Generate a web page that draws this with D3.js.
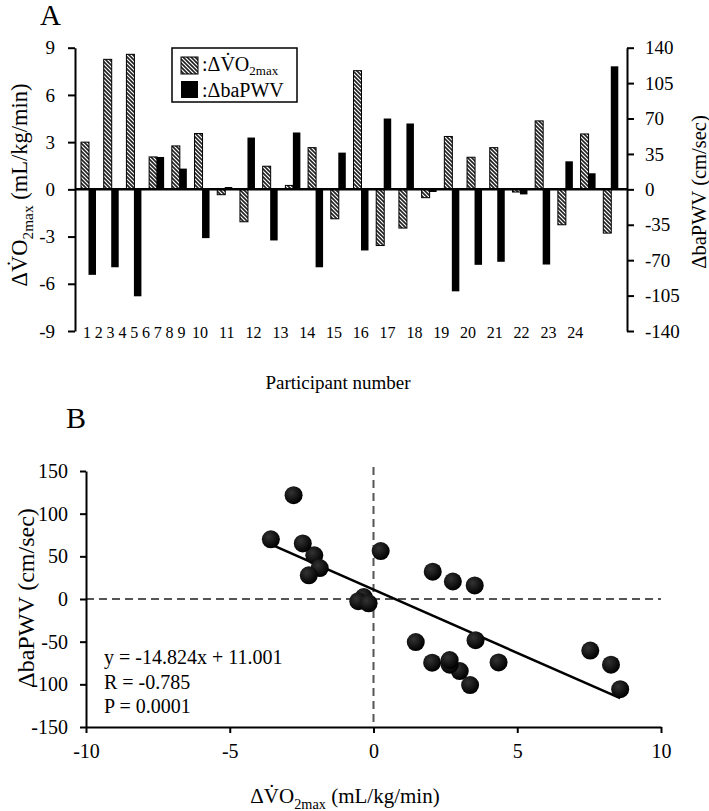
<!DOCTYPE html>
<html><head><meta charset="utf-8">
<script src="https://cdn.jsdelivr.net/npm/d3@7"></script>
<style>
body{margin:0;background:#fff;}
svg, svg text{font-family:"Liberation Serif","Times New Roman","DejaVu Serif",serif;fill:#000;}
</style></head><body>
<svg id="chart" width="709" height="811" font-family="Liberation Serif"></svg>
<script>
// ---- data ----
const participantIds = ["1","2","3","4","5","6","7","8","9","10","11","12","13","14","15","16","17","18","19","20","21","22","23","24"];
const vo2Change = [3.0, 8.26, 8.58, 2.06, 2.76, 3.55, -0.34, -2.06, 1.47, 0.25, 2.65, -1.87, 7.54, -3.57, -2.46, -0.53, 3.36, 2.04, 2.65, -0.17, 4.35, -2.25, 3.52, -2.78];
const pwvChange = [-84.5, -77, -105.7, 32, 20.5, -48.2, 2.3, 51.2, -50.5, 56.2, -77, 36.3, -60.4, 70, 65.1, -2.6, -100.8, -74.6, -71.6, -5, -74.3, 27.7, 15.9, 121.6];
const leftTicks = [-9, -6, -3, 0, 3, 6, 9];
const rightTicks = [-140, -105, -70, -35, 0, 35, 70, 105, 140];
const scatterXTicks = [-10, -5, 0, 5, 10];
const scatterYTicks = [-150, -100, -50, 0, 50, 100, 150];
const fitSlope = -14.824, fitIntercept = 11.001;
const statsLines = ["y = -14.824x + 11.001", "R = -0.785", "P = 0.0001"];

const FONT = "Liberation Serif";
const svg = d3.select("#chart");
const fmt = d => String(d);

// hatch pattern
const defs = svg.append("defs");
const pat = defs.append("pattern").attr("id","hatch").attr("patternUnits","userSpaceOnUse")
  .attr("width",4).attr("height",4);
pat.append("rect").attr("width",4).attr("height",4).attr("fill","#222");
pat.append("path").attr("d","M-1,-1 L5,5 M3,-1 L5,1 M-1,3 L1,5").attr("stroke","#fff").attr("stroke-width",1.2);
const grad = defs.append("radialGradient").attr("id","ball").attr("cx","38%").attr("cy","35%").attr("r","65%");
grad.append("stop").attr("offset","0%").attr("stop-color","#333");
grad.append("stop").attr("offset","100%").attr("stop-color","#000");

function vo2Label(sel, size){
  sel.append("tspan").text("\u0394V\u0307O");
  sel.append("tspan").text("2max").attr("font-size", size*0.68).attr("dy", size*0.28);
  sel.append("tspan").text(" (mL/kg/min)").attr("dy", -size*0.28);
}

// ---- Panel A ----
const A = {left:75, right:627, top:47.7, bottom:331};
const x = d3.scaleBand().domain(participantIds).range([78, 623]);
const yL = d3.scaleLinear().domain([-9, 9]).range([A.bottom, A.top]);
const yR = d3.scaleLinear().domain([-140, 140]).range([A.bottom, A.top]);

const gA = svg.append("g");
const axL = gA.append("g").attr("transform",`translate(${A.left},0)`)
  .call(d3.axisLeft(yL).tickValues(leftTicks).tickFormat(fmt).tickSize(7).tickSizeOuter(0).tickPadding(13));
const axR = gA.append("g").attr("transform",`translate(${A.right},0)`)
  .call(d3.axisRight(yR).tickValues(rightTicks).tickFormat(fmt).tickSize(7).tickSizeOuter(0).tickPadding(11));
[axL, axR].forEach(a => {
  a.selectAll("path,line").attr("stroke","#000").attr("stroke-width",2);
  a.selectAll("text").attr("font-size",19).attr("font-family",FONT);
});

// bars
gA.selectAll("rect.vo2").data(participantIds).join("rect").attr("class","vo2")
  .attr("x", (d,i) => x(d) + 3).attr("width", 8)
  .attr("y", (d,i) => Math.min(yL(vo2Change[i]), yL(0)))
  .attr("height", (d,i) => Math.abs(yL(vo2Change[i]) - yL(0)))
  .attr("fill","url(#hatch)").attr("stroke","#000").attr("stroke-width",1);
gA.selectAll("rect.pwv").data(participantIds).join("rect").attr("class","pwv")
  .attr("x", (d,i) => x(d) + 10.5).attr("width", 7.5)
  .attr("y", (d,i) => Math.min(yR(pwvChange[i]), yR(0)))
  .attr("height", (d,i) => Math.abs(yR(pwvChange[i]) - yR(0)))
  .attr("fill","#000");
// zero line
gA.append("line").attr("x1",A.left).attr("x2",A.right).attr("y1",yL(0)).attr("y2",yL(0))
  .attr("stroke","#000").attr("stroke-width",2.5);

// category labels (laid out as in the original: tight single digits, wider two-digit)
gA.selectAll("text.cat").data(participantIds).join("text").attr("class","cat")
  .attr("x", (d,i) => i < 9 ? 87 + i*11.8 : 200 + (i-9)*26.8)
  .attr("y", A.bottom + 7).attr("text-anchor","middle").attr("font-size",16).text(d => d);

gA.append("text").attr("x",338).attr("y",389).attr("text-anchor","middle").attr("font-size",19).text("Participant number");

// axis titles
const tL = gA.append("text").attr("transform",`translate(27,185) rotate(-90)`).attr("text-anchor","middle").attr("font-size",22.5);
vo2Label(tL, 22.5);
gA.append("text").attr("transform",`translate(706,192) rotate(-90)`).attr("text-anchor","middle").attr("font-size",20.5).text("\u0394baPWV (cm/sec)");

gA.append("text").attr("x",40).attr("y",25).attr("font-size",29).text("A");

// legend
const lg = gA.append("g");
lg.append("rect").attr("x",172).attr("y",48).attr("width",125).attr("height",54).attr("fill","#fff").attr("stroke","#000").attr("stroke-width",1.5);
lg.append("rect").attr("x",181).attr("y",57).attr("width",17).attr("height",17).attr("fill","url(#hatch)").attr("stroke","#000").attr("stroke-width",1);
lg.append("rect").attr("x",181).attr("y",81).attr("width",17).attr("height",17).attr("fill","#000");
const lt1 = lg.append("text").attr("x",202).attr("y",71).attr("font-size",20);
lt1.append("tspan").text(":\u0394V\u0307O");
lt1.append("tspan").text("2max").attr("font-size",13).attr("dy",4);
lg.append("text").attr("x",202).attr("y",97).attr("font-size",20).text(":\u0394baPWV");

// ---- Panel B ----
const B = {left:86, right:661, top:471, bottom:727};
const xs = d3.scaleLinear().domain([-10, 10]).range([B.left, B.right]);
const ys = d3.scaleLinear().domain([-150, 150]).range([B.bottom, B.top]);
const gB = svg.append("g");

// dashed reference lines
gB.append("line").attr("x1",xs(-10)).attr("x2",xs(10)).attr("y1",ys(0)).attr("y2",ys(0))
  .attr("stroke","#555").attr("stroke-width",2).attr("stroke-dasharray","8,5");
gB.append("line").attr("x1",xs(0)).attr("x2",xs(0)).attr("y1",ys(150)-4).attr("y2",ys(-150))
  .attr("stroke","#555").attr("stroke-width",2).attr("stroke-dasharray","8,5");

const axBx = gB.append("g").attr("transform",`translate(0,${B.bottom})`)
  .call(d3.axisBottom(xs).tickValues(scatterXTicks).tickFormat(fmt).tickSize(6).tickSizeOuter(0).tickPadding(11));
const axBy = gB.append("g").attr("transform",`translate(${B.left},0)`)
  .call(d3.axisLeft(ys).tickValues(scatterYTicks).tickFormat(fmt).tickSize(6).tickSizeOuter(0).tickPadding(12));
[axBx, axBy].forEach(a => {
  a.selectAll("path,line").attr("stroke","#000").attr("stroke-width",2);
  a.selectAll("text").attr("font-size",20).attr("font-family",FONT);
});

// fit line
const xMin = d3.min(vo2Change), xMax = d3.max(vo2Change);
gB.append("line").attr("x1",xs(xMin)).attr("y1",ys(fitSlope*xMin+fitIntercept))
  .attr("x2",xs(xMax)).attr("y2",ys(fitSlope*xMax+fitIntercept))
  .attr("stroke","#000").attr("stroke-width",2.5);

// points
gB.selectAll("circle").data(vo2Change).join("circle")
  .attr("cx", d => xs(d)).attr("cy", (d,i) => ys(pwvChange[i])).attr("r", 9)
  .attr("fill","url(#ball)");

gB.selectAll("text.stat").data(statsLines).join("text").attr("class","stat")
  .attr("x",104).attr("y",(d,i) => 664 + i*24.5).attr("font-size",20).text(d => d);

const tBx = gB.append("text").attr("x",345).attr("y",803).attr("text-anchor","middle").attr("font-size",21);
vo2Label(tBx, 21);
gB.append("text").attr("transform",`translate(34,598) rotate(-90)`).attr("text-anchor","middle").attr("font-size",24).text("\u0394baPWV (cm/sec)");
gB.append("text").attr("x",66).attr("y",428).attr("font-size",30).text("B");
</script>
</body></html>
